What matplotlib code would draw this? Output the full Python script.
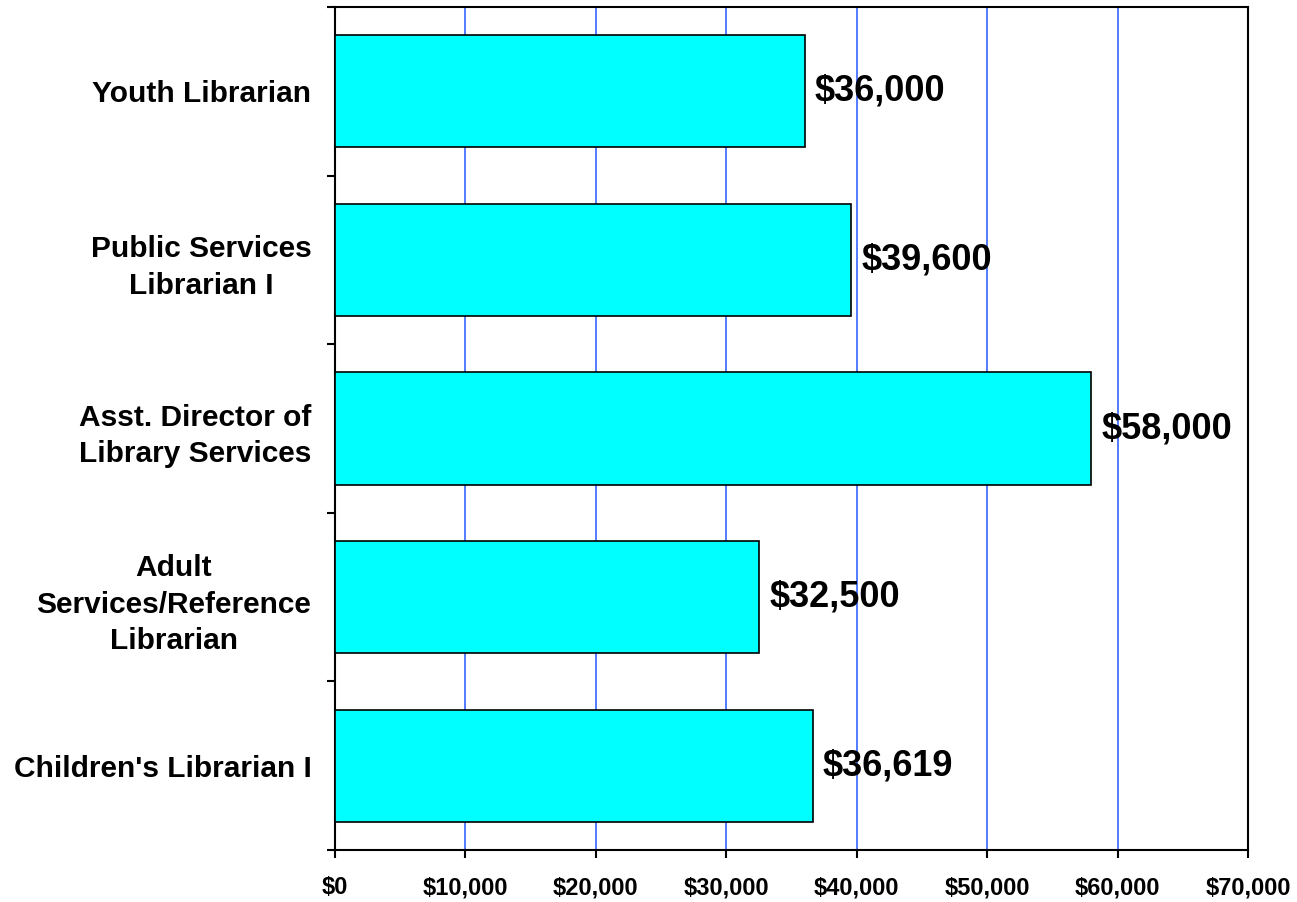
import matplotlib.pyplot as plt
import numpy as np

plt.rcParams['font.family'] = ['Liberation Sans', 'DejaVu Sans']
plt.rcParams['font.weight'] = 'bold'

# categories listed bottom to top
jobs = ["Children's Librarian I", "Adult\nServices/Reference\nLibrarian",
        "Asst. Director of\nLibrary Services", "Public Services\nLibrarian I",
        "Youth Librarian"]
salary = [36619, 32500, 58000, 39600, 36000]
xticks = [0, 10000, 20000, 30000, 40000, 50000, 60000, 70000]

fig = plt.figure(figsize=(12.97, 9.02), dpi=100)
ax = fig.add_axes([0.2583, 0.0576, 0.7039, 0.9346])

y = np.arange(len(jobs))
ax.barh(y, salary, height=0.665, color='#00FFFF', edgecolor='black', linewidth=1.2, zorder=3)

for yi, v in zip(y, salary):
    ax.text(v + 800, yi, "${:,}".format(v), va='center', ha='left',
            fontsize=26, fontweight='bold', zorder=4)

ax.set_xlim(0, 70000)
ax.set_ylim(-0.5, len(jobs) - 0.5)
ax.set_xticks(xticks)
ax.set_xticklabels(["${:,}".format(t) for t in xticks], fontsize=17, fontweight='bold')
ax.tick_params(axis='x', direction='out', length=6, width=1.5, pad=13)

# category labels, ticks between categories
ax.set_yticks(y)
ax.set_yticklabels(jobs, fontsize=21.5, fontweight='bold', ha='right',
                   multialignment='center', linespacing=1.4)
ax.tick_params(axis='y', which='major', length=0, pad=17)
ax.set_yticks(np.arange(-0.5, len(jobs), 1.0), minor=True)
ax.tick_params(axis='y', which='minor', direction='out', length=6, width=1.5)

ax.xaxis.grid(True, color='#3366FF', linewidth=1.2, zorder=0)
for s in ax.spines.values():
    s.set_linewidth(1.5)

fig.savefig('out.png', dpi=100)
